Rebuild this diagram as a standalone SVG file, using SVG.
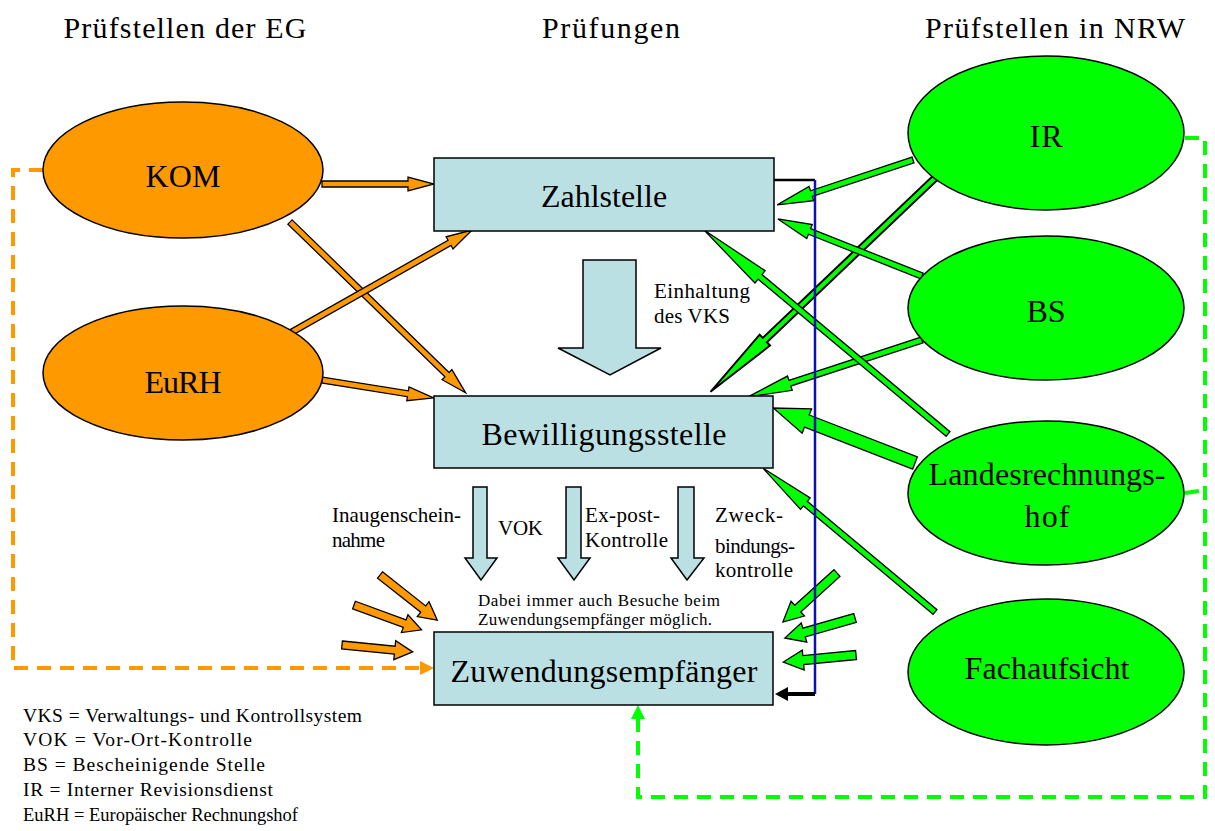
<svg xmlns="http://www.w3.org/2000/svg" width="1215" height="831" viewBox="0 0 1215 831">
<style>
text{font-family:"Liberation Serif","Times New Roman",serif;fill:#000}
.t{font-size:32px;text-anchor:middle}
.h{font-size:30px;text-anchor:middle}
.s{font-size:21px}
.xs{font-size:17px}
.lg{font-size:19.5px}
.oe{fill:#FF9900;stroke:#000;stroke-width:1.5}
.ge{fill:#00FF00;stroke:#000;stroke-width:1.5}
.box{fill:#BBE0E3;stroke:#000;stroke-width:1.5}
.oa{fill:#FF9900;stroke:#000;stroke-width:1.3}
.ga{fill:#00FF00;stroke:#000;stroke-width:1.3}
.ba{fill:#BBE0E3;stroke:#000;stroke-width:1.5}
.od{fill:none;stroke:#FF9900;stroke-width:4;stroke-dasharray:14 9}
.gd{fill:none;stroke:#00FF00;stroke-width:4;stroke-dasharray:14 9}
</style>
<rect width="1215" height="831" fill="#fff"/>
<g id="connectors">
  <path class="od" d="M43,170 H13 V668 H422"/>
  <polygon points="434,668 420,661 420,675" fill="#FF9900"/>
  <path class="gd" d="M1185,138 H1205 V797 H638 V718"/>
  <path class="gd" d="M1185,493 L1205,490"/>
  <polygon points="638,705 631,719 645,719" fill="#00FF00"/>
  <polygon class="oa" transform="translate(322,184)" points="0,-3 86,-3 86,-7 112,0 86,7 86,3 0,3"/>
  <polygon class="oa" transform="translate(290,222) rotate(44.2)" points="0,-3 219,-3 219,-7 245,0 219,7 219,3 0,3"/>
  <polygon class="oa" transform="translate(292,332) rotate(-29.5)" points="0,-3 181,-3 181,-7 207,0 181,7 181,3 0,3"/>
  <polygon class="oa" transform="translate(322,380) rotate(9.1)" points="0,-3 87,-3 87,-7 113,0 87,7 87,3 0,3"/>
  <polygon class="oa" transform="translate(380,575) rotate(38.3)" points="0,-4 55,-4 55,-9.5 73,0 55,9.5 55,4 0,4"/>
  <polygon class="oa" transform="translate(354,605) rotate(20.2)" points="0,-4 54,-4 54,-9.5 72,0 54,9.5 54,4 0,4"/>
  <polygon class="oa" transform="translate(342,645) rotate(5.6)" points="0,-4 53,-4 53,-9.5 71,0 53,9.5 53,4 0,4"/>
  <polygon class="ga" transform="translate(913,160) rotate(161.7)" points="0,-3 107,-3 107,-7.5 143,0 107,7.5 107,3 0,3"/>
  <polygon class="ga" style="stroke-width:2" transform="translate(935,178) rotate(136.4)" points="0,-3 235,-3 235,-7.5 310,0 235,7.5 235,3 0,3"/>
  <polygon class="ga" transform="translate(922,276) rotate(-158.4)" points="0,-3 121,-3 121,-7.5 155,0 121,7.5 121,3 0,3"/>
  <polygon class="ga" transform="translate(922,340) rotate(161.9)" points="0,-3 139,-3 139,-7.5 183,0 139,7.5 139,3 0,3"/>
  <polygon class="ga" transform="translate(948,434) rotate(-140.1)" points="0,-3 245,-3 245,-8 318,0 245,8 245,3 0,3"/>
  <polygon class="ga" transform="translate(915,463) rotate(-158.8)" points="0,-6.5 116,-6.5 116,-13 152,0 116,13 116,6.5 0,6.5"/>
  <polygon class="ga" transform="translate(935,612) rotate(-140.1)" points="0,-3 169,-3 169,-7.5 224,0 169,7.5 169,3 0,3"/>
  <polygon class="ga" transform="translate(837,573) rotate(137.8)" points="0,-4.5 53,-4.5 53,-10 73,0 53,10 53,4.5 0,4.5"/>
  <polygon class="ga" transform="translate(855,618) rotate(164.1)" points="0,-4.5 53,-4.5 53,-10 73,0 53,10 53,4.5 0,4.5"/>
  <polygon class="ga" transform="translate(856,655) rotate(174.5)" points="0,-4.5 53,-4.5 53,-10 73,0 53,10 53,4.5 0,4.5"/>
  <polygon class="ba" points="583,260 636,260 636,348 661,348 610,375 558,348 583,348"/>
  <polygon class="ba" points="473,487 487,487 487,558 497,558 481,580 465,558 473,558"/>
  <polygon class="ba" points="566,487 581,487 581,558 590,558 574,580 558,558 566,558"/>
  <polygon class="ba" points="678,487 694,487 694,558 704,558 687,580 671,558 678,558"/>
</g>
<g id="KOM"><ellipse class="oe" cx="183" cy="170" rx="140" ry="68"/><text class="t" x="183" y="187" textLength="75" lengthAdjust="spacing">KOM</text></g>
<g id="EuRH"><ellipse class="oe" cx="183" cy="373" rx="140" ry="67"/><text class="t" x="183" y="393" textLength="77" lengthAdjust="spacing">EuRH</text></g>
<g id="IR"><ellipse class="ge" cx="1046" cy="133" rx="138" ry="77"/><text class="t" x="1046" y="147" textLength="33" lengthAdjust="spacing">IR</text></g>
<g id="BS"><ellipse class="ge" cx="1046" cy="308" rx="138" ry="72"/><text class="t" x="1046" y="322" textLength="39" lengthAdjust="spacing">BS</text></g>
<g id="Landesrechnungshof"><ellipse class="ge" cx="1046" cy="493" rx="138" ry="72"/><text class="t" x="1047" y="485" textLength="237" lengthAdjust="spacing">Landesrechnungs-</text><text class="t" x="1047" y="527" textLength="45" lengthAdjust="spacing">hof</text></g>
<g id="Fachaufsicht"><ellipse class="ge" cx="1046" cy="672" rx="138" ry="73"/><text class="t" x="1047" y="679" textLength="165" lengthAdjust="spacing">Fachaufsicht</text></g>
<g id="Zahlstelle"><rect class="box" x="434" y="158" width="340" height="73"/><text class="t" x="604" y="207">Zahlstelle</text></g>
<g id="Bewilligungsstelle"><rect class="box" x="434" y="396" width="339" height="72"/><text class="t" x="604" y="445" textLength="245" lengthAdjust="spacing">Bewilligungsstelle</text></g>
<g id="Zuwendungsempfaenger"><rect class="box" x="434" y="632" width="339" height="73"/><text class="t" x="604" y="682" textLength="307" lengthAdjust="spacing">Zuwendungsempfänger</text></g>
<g id="feedback">
  <path d="M774,180 H815" stroke="#000" stroke-width="2.5" fill="none"/>
  <path d="M815,180 V694" stroke="#1010b0" stroke-width="2.5" fill="none"/>
  <path d="M815,694 H786" stroke="#000" stroke-width="4" fill="none"/>
  <polygon points="775,694 788,687 788,701" fill="#000"/>
</g>
<g id="labels">
  <text class="h" x="185" y="38" textLength="243" lengthAdjust="spacing">Prüfstellen der EG</text>
  <text class="h" x="611" y="38" textLength="138" lengthAdjust="spacing">Prüfungen</text>
  <text class="h" x="1055" y="38" textLength="260" lengthAdjust="spacing">Prüfstellen in NRW</text>
  <text class="s" x="654" y="298" textLength="96" lengthAdjust="spacing">Einhaltung</text>
  <text class="s" x="654" y="323" textLength="76" lengthAdjust="spacing">des VKS</text>
  <text class="s" x="332" y="522" textLength="129" lengthAdjust="spacing">Inaugenschein-</text>
  <text class="s" x="332" y="547" textLength="53" lengthAdjust="spacing">nahme</text>
  <text class="s" x="498" y="535" textLength="45" lengthAdjust="spacing">VOK</text>
  <text class="s" x="585" y="522" textLength="75" lengthAdjust="spacing">Ex-post-</text>
  <text class="s" x="585" y="547" textLength="83" lengthAdjust="spacing">Kontrolle</text>
  <text class="s" x="715" y="522" textLength="68" lengthAdjust="spacing">Zweck-</text>
  <text class="s" x="715" y="553" textLength="80" lengthAdjust="spacing">bindungs-</text>
  <text class="s" x="715" y="577" textLength="78" lengthAdjust="spacing">kontrolle</text>
  <text class="xs" x="478" y="606" textLength="242" lengthAdjust="spacing">Dabei immer auch Besuche beim</text>
  <text class="xs" x="478" y="625" textLength="234" lengthAdjust="spacing">Zuwendungsempfänger möglich.</text>
  <text class="lg" x="23" y="722" textLength="339" lengthAdjust="spacing">VKS = Verwaltungs- und Kontrollsystem</text>
  <text class="lg" x="23" y="746" textLength="229" lengthAdjust="spacing">VOK = Vor-Ort-Kontrolle</text>
  <text class="lg" x="23" y="771" textLength="242" lengthAdjust="spacing">BS = Bescheinigende Stelle</text>
  <text class="lg" x="23" y="796" textLength="250" lengthAdjust="spacing">IR = Interner Revisionsdienst</text>
  <text class="lg" x="23" y="821" style="font-size:18.5px">EuRH = Europäischer Rechnungshof</text>
</g>
</svg>
